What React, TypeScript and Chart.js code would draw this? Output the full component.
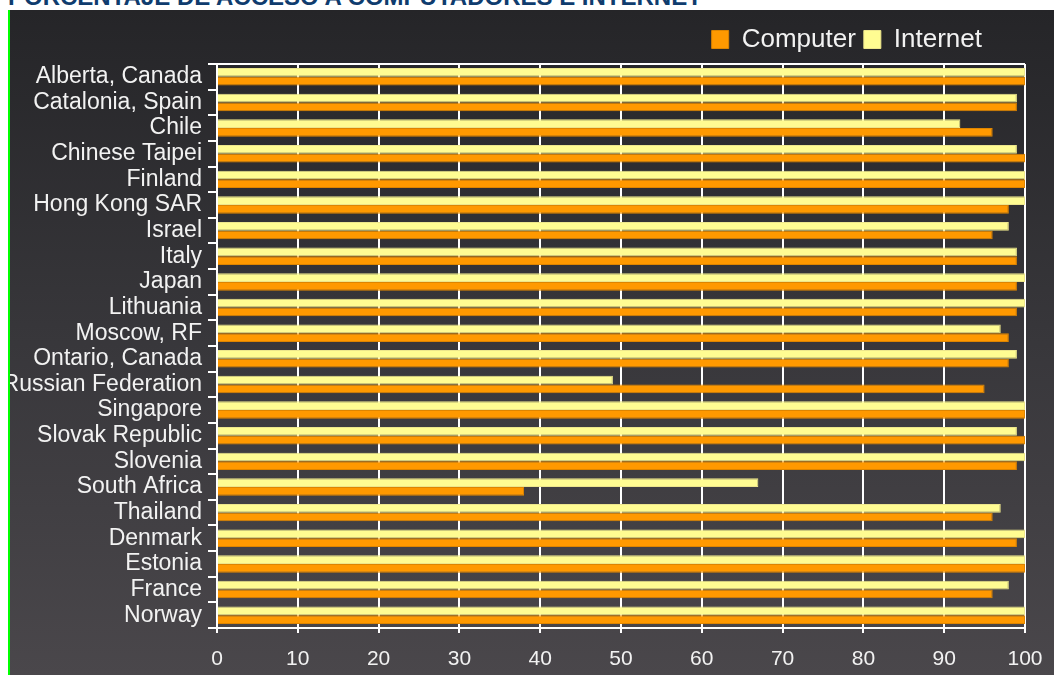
import React, { useEffect, useRef } from 'react';
import { Chart, registerables } from 'chart.js';

Chart.register(...registerables);

const categories = [
  'Alberta, Canada',
  'Catalonia, Spain',
  'Chile',
  'Chinese Taipei',
  'Finland',
  'Hong Kong SAR',
  'Israel',
  'Italy',
  'Japan',
  'Lithuania',
  'Moscow, RF',
  'Ontario, Canada',
  'Russian Federation',
  'Singapore',
  'Slovak Republic',
  'Slovenia',
  'South Africa',
  'Thailand',
  'Denmark',
  'Estonia',
  'France',
  'Norway',
];

const internetValues = [100, 99, 92, 99, 100, 100, 98, 99, 100, 100, 97, 99, 49, 100, 99, 100, 67, 97, 100, 100, 98, 100];
const computerValues = [100, 99, 96, 100, 100, 98, 96, 99, 99, 99, 98, 98, 95, 100, 100, 99, 38, 96, 99, 100, 96, 100];

const xTickValues = [0, 10, 20, 30, 40, 50, 60, 70, 80, 90, 100];

const TITLE = 'PORCENTAJE DE ACCESO A COMPUTADORES E INTERNET';
const FONT = '"Liberation Sans", Arial, Helvetica, sans-serif';

const legendShift = {
  id: 'legendShift',
  afterLayout(chart: any) {
    const l = chart.legend;
    if (l) {
      l.right -= 35;
      l.top -= 1.5;
      l.bottom -= 1.5;
    }
  },
};

export default function App() {
  const canvasRef = useRef<HTMLCanvasElement | null>(null);

  useEffect(() => {
    if (!canvasRef.current) return;
    const chart = new Chart(canvasRef.current, {
      type: 'bar',
      data: {
        labels: categories,
        datasets: [
          {
            label: 'Internet',
            data: internetValues,
            backgroundColor: '#FFFC92',
            borderColor: '#EDE68C',
            borderWidth: 1,
            categoryPercentage: 0.68,
            barPercentage: 1,
          },
          {
            label: 'Computer',
            data: computerValues,
            backgroundColor: '#FF9900',
            borderColor: '#DE8500',
            borderWidth: 1,
            categoryPercentage: 0.68,
            barPercentage: 1,
          },
        ],
      },
      plugins: [legendShift],
      options: {
        indexAxis: 'y',
        animation: false,
        responsive: true,
        maintainAspectRatio: false,
        layout: { padding: { top: 10, right: 29, bottom: 5, left: 0 } },
        plugins: {
          legend: {
            display: true,
            position: 'top',
            align: 'end',
            reverse: true,
            labels: {
              color: '#f2f2f2',
              font: { family: FONT, size: 26 },
              boxWidth: 17,
              boxHeight: 18,
              padding: 8,
            },
          },
          title: { display: false },
          tooltip: { enabled: false },
        },
        scales: {
          x: {
            min: 0,
            max: 100,
            afterBuildTicks: (scale: any) => {
              scale.ticks = xTickValues.map((v) => ({ value: v }));
            },
            afterFit: (scale: any) => {
              scale.height = 42;
              scale.paddingRight = 0;
              scale.paddingLeft = 0;
            },
            grid: {
              color: '#ffffff',
              lineWidth: 2,
              tickLength: 5,
              tickColor: '#ffffff',
            },
            border: { color: '#ffffff', width: 2 },
            ticks: {
              color: '#f2f2f2',
              font: { family: FONT, size: 21 },
              padding: 14,
            },
          },
          y: {
            afterFit: (scale: any) => {
              scale.width = 208;
            },
            grid: {
              offset: true,
              drawOnChartArea: true,
              color: (ctx: any) => (ctx.index === 0 ? '#ffffff' : 'rgba(0,0,0,0)'),
              tickColor: '#ffffff',
              lineWidth: 2,
              tickLength: 9,
            },
            border: { color: '#ffffff', width: 2 },
            ticks: {
              color: '#f2f2f2',
              font: { family: FONT, size: 23 },
              padding: 6,
              autoSkip: false,
            },
          },
        },
      },
    });
    return () => chart.destroy();
  }, []);

  return (
    <div
      style={{
        position: 'fixed',
        left: 0,
        top: 0,
        width: 1054,
        height: 675,
        overflow: 'hidden',
        background: '#ffffff',
      }}
    >
      <div
        style={{
          position: 'absolute',
          left: 8,
          top: -15,
          fontFamily: FONT,
          fontWeight: 'bold',
          fontSize: 24,
          lineHeight: '24px',
          color: '#0f3c6e',
          whiteSpace: 'nowrap',
        }}
      >
        {TITLE}
      </div>
      <div
        style={{
          position: 'absolute',
          left: 8,
          top: 10,
          width: 1046,
          height: 665,
          background: 'linear-gradient(to bottom, #252528 0%, #38373b 50%, #4a474b 100%)',
        }}
      >
        <div style={{ position: 'absolute', left: 1, top: 0, width: 1045, height: 665 }}>
          <canvas ref={canvasRef} />
        </div>
        <div
          style={{
            position: 'absolute',
            left: 0,
            top: 0,
            width: 2,
            height: 665,
            background: '#00ff00',
          }}
        />
      </div>
    </div>
  );
}
